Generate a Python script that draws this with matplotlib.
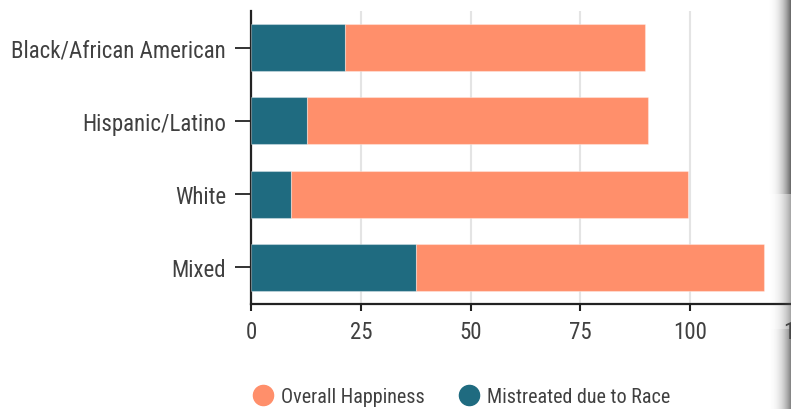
import numpy as np
import matplotlib.pyplot as plt
from matplotlib.lines import Line2D

# survey results by race / ethnicity
groups = ['Black/African American', 'Hispanic/Latino', 'White', 'Mixed']
mistreated = [21.3, 12.7, 9.2, 37.5]
happiness = [68.3, 77.7, 90.3, 79.3]

TEAL = '#1f6b80'
ORANGE = '#ff8f6b'
TEXT = '#404040'

plt.rcParams['font.family'] = ['Roboto Condensed', 'Roboto', 'DejaVu Sans']

fig = plt.figure(figsize=(7.91, 4.10), dpi=100)
ax = fig.add_axes([251 / 791, 105 / 410, 549 / 791, 293 / 410])

y = np.arange(len(groups))
ax.barh(y, mistreated, height=0.64, color=TEAL, edgecolor='#ffffff55', linewidth=0.8, zorder=3)
ax.barh(y, happiness, left=mistreated, height=0.64, color=ORANGE, edgecolor='#ffffff55', linewidth=0.8, zorder=3)

ax.set_ylim(3.5, -0.5)
ax.set_xlim(0, 125)
ax.set_yticks(y)
ax.set_yticklabels(groups)
ax.set_xticks([0, 25, 50, 75, 100, 125])
ax.set_xticklabels(['0', '25', '50', '75', '100', '125'])

ax.grid(axis='x', color='#e4e4e4', linewidth=1.5, zorder=0)
ax.set_axisbelow(True)

for side in ['top', 'right']:
    ax.spines[side].set_visible(False)
for side in ['left', 'bottom']:
    ax.spines[side].set_color('#222222')
    ax.spines[side].set_linewidth(1.6)

ax.tick_params(axis='y', length=11.5, width=1.3, color='#222222', pad=6.5,
               labelsize=16.5, labelcolor=TEXT)
ax.tick_params(axis='x', length=5, width=1.5, color='#222222', pad=6.5,
               labelsize=16.5, labelcolor=TEXT)

handles = [
    Line2D([], [], marker='o', ls='', markersize=14.5, color=ORANGE),
    Line2D([], [], marker='o', ls='', markersize=14.5, color=TEAL),
]
fig.legend(handles, ['Overall Happiness', 'Mistreated due to Race'],
           loc='center left', bbox_to_anchor=(253 / 791, 1 - 398 / 410),
           ncol=2, frameon=False, fontsize=14.5, labelcolor=TEXT,
           handlelength=1.0, handletextpad=0.4, columnspacing=1.7,
           borderpad=0, borderaxespad=0)

# soft dark shadow along the right edge
sh = fig.add_axes([766 / 791, 0, 25 / 791, 1])
xs = np.linspace(0, 1, 60) ** 2.6
rows = np.ones(410) * 0.5
rows[:195] = 0.85
rows[330:] = 0.7
alpha = np.outer(rows, xs)
img = np.zeros((410, 60, 4))
img[..., :3] = 0.3
img[..., 3] = alpha
sh.imshow(img, aspect='auto', extent=(0, 1, 0, 1))
sh.set_axis_off()

fig.savefig('out.png', dpi=100)
